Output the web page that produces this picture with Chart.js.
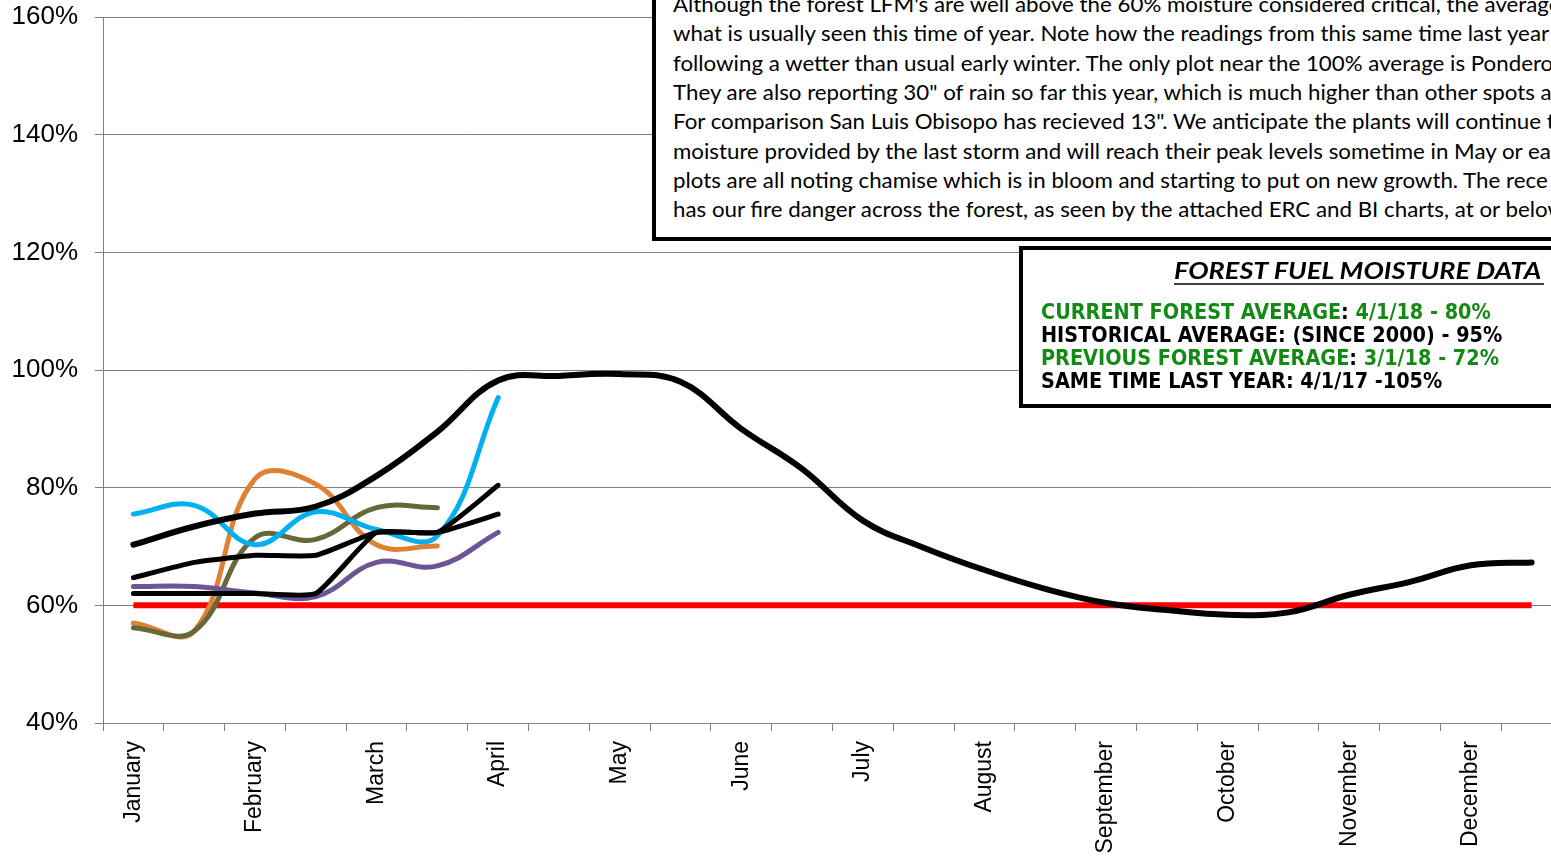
<!DOCTYPE html>
<html>
<head>
<meta charset="utf-8">
<script src="https://cdn.jsdelivr.net/npm/chart.js@4.4.1/dist/chart.umd.min.js"></script>
<style>
  html, body { margin: 0; padding: 0; background: #fff; overflow: hidden; width: 1551px; height: 859px; }
  #wrap { position: relative; width: 1551px; height: 859px; overflow: hidden; }
  #c { position: absolute; left: 0; top: 0; }
  #ov { position: absolute; left: 0; top: 0; }
</style>
</head>
<body>
<div id="wrap">
  <canvas id="c" width="1580" height="859"></canvas>
  <svg id="ov" width="1551" height="859" xmlns="http://www.w3.org/2000/svg"></svg>
</div>
<script>
// ---- data ----
const categories = ['January','','February','','March','','April','','May','','June','',
                    'July','','August','','September','','October','','November','','December',''];
const yTickValues = [40, 60, 80, 100, 120, 140, 160];
const historicalAvg = [70.3, 73.4, 75.6, 76.8, 82.0, 89.5, 98.2, 99.0, 99.3, 98.0, 90.0, 83.2,
                       74.4, 69.8, 66.0, 62.8, 60.4, 59.2, 58.4, 58.8, 61.8, 64.0, 66.8, 67.3];
const blackA = [64.7, 67.3, 68.5, 68.5, 72.4, 72.4, 75.5];
const blackB = [62.0, 62.0, 62.0, 62.0, 72.4, 72.4, 80.4];
const purpleSeries = [63.2, 63.2, 62.1, 61.5, 67.3, 66.7, 72.4];
const cyanSeries = [75.5, 77.0, 70.3, 75.9, 72.9, 71.8, 95.3];
const oliveSeries = [56.2, 55.6, 71.5, 71.2, 76.6, 76.6];
const orangeSeries = [57.0, 55.6, 81.5, 80.6, 70.3, 70.1];
const criticalLine = [60,60,60,60,60,60,60,60,60,60,60,60,60,60,60,60,60,60,60,60,60,60,60,60];

const bodyLines = [
  "Although the forest LFM's are well above the 60% moisture considered critical, the average",
  "what is usually seen this time of year. Note how the readings from this same time last year",
  "following a wetter than usual early winter. The only plot near the 100% average is Pondero",
  "They are also reporting 30\" of rain so far this year, which is much higher than other spots a",
  "For comparison San Luis Obisopo has recieved 13\". We anticipate the plants will continue t",
  "moisture provided by the last storm and will reach their peak levels sometime in May or ea",
  "plots are all noting chamise which is in bloom and starting to put on new growth. The rece",
  "has our fire danger across the forest, as seen by the attached ERC and BI charts, at or below"
];
const boxTitle = "FOREST FUEL MOISTURE DATA";
const boxLines = [
  [["CURRENT FOREST AVERAGE", "g"], [":", "k"], [" 4/1/18 - 80%", "g"]],
  [["HISTORICAL AVERAGE: (SINCE 2000) - 95%", "k"]],
  [["PREVIOUS FOREST AVERAGE", "g"], [":", "k"], [" 3/1/18 - 72%", "g"]],
  [["SAME TIME LAST YEAR: 4/1/17 -105%", "k"]]
];

// ---- chart ----
const FONT = "'Liberation Sans', Arial, sans-serif";
const canvasW = 1580;
const plotRight = 1562;

const ds = (data, color, width, tension) => ({
  data, borderColor: color, borderWidth: width, tension,
  pointRadius: 0, fill: false, borderCapStyle: 'round', borderJoinStyle: 'round'
});

new Chart(document.getElementById('c'), {
  type: 'line',
  data: {
    labels: categories,
    datasets: [
      ds(historicalAvg, '#000000', 6, 0.4),
      ds(blackB, '#000000', 5, 0.15),
      ds(blackA, '#000000', 5, 0.15),
      ds(purpleSeries, '#6B5596', 5, 0.4),
      ds(cyanSeries, '#00B0F0', 5, 0.4),
      ds(oliveSeries, '#67673A', 5, 0.4),
      ds(orangeSeries, '#DF8133', 5, 0.4),
      Object.assign(ds(criticalLine, '#FF0000', 6, 0), { borderCapStyle: 'butt' })
    ]
  },
  options: {
    responsive: false,
    animation: false,
    devicePixelRatio: 1,
    layout: { padding: { top: 17, right: canvasW - plotRight, left: 0, bottom: 0 } },
    plugins: { legend: { display: false }, tooltip: { enabled: false } },
    scales: {
      y: {
        min: 40, max: 160,
        afterBuildTicks: (s) => { s.ticks = yTickValues.map(v => ({ value: v })); },
        afterFit: (s) => { s.width = 103; s.paddingTop = 0; s.paddingBottom = 0; },
        ticks: { callback: (v) => v + '%', color: '#000', font: { family: FONT, size: 26 }, padding: 17 },
        grid: { color: '#808080', lineWidth: 1, tickLength: 8, drawTicks: true },
        border: { color: '#808080', width: 1 }
      },
      x: {
        offset: true,
        afterFit: (s) => { s.height = 859 - 723; s.paddingLeft = 0; s.paddingRight = 0; },
        ticks: { autoSkip: false, maxRotation: 90, minRotation: 90, color: '#000',
                 font: { family: FONT, size: 23 }, padding: 10 },
        grid: { offset: true, drawOnChartArea: false, drawTicks: true, tickLength: 8, color: '#808080', lineWidth: 1 },
        border: { color: '#808080', width: 1 }
      }
    }
  }
});

// ---- overlay text boxes ----
const NS = 'http://www.w3.org/2000/svg';
const svg = document.getElementById('ov');
const mc = document.createElement('canvas').getContext('2d');
function el(name, attrs, parent) {
  const e = document.createElementNS(NS, name);
  for (const k in attrs) e.setAttribute(k, attrs[k]);
  (parent || svg).appendChild(e);
  return e;
}
function measure(text, font) { mc.font = font; return mc.measureText(text).width; }

// body text box
el('rect', { x: 654, y: -30, width: 1100, height: 269, fill: '#fff', stroke: '#000', 'stroke-width': 4 });
const bodyFam = "Lato, 'Open Sans', sans-serif";
const bodySize = 21;
const bodySx = 872 / measure("following a wetter than usual early winter. The only plot near the 100% average is Ponder", bodySize + "px " + bodyFam);
bodyLines.forEach((t, i) => {
  const y = 12 + i * 29.3;
  const tx = el('text', { x: 0, y: 0, transform: `translate(673,${y}) scale(${bodySx},1)`,
    'font-family': bodyFam, 'font-size': bodySize, fill: '#000' });
  tx.textContent = t;
});

// legend box
el('rect', { x: 1021, y: 248, width: 700, height: 158, fill: '#fff', stroke: '#000', 'stroke-width': 4 });
const titleFont = "italic bold 23px Lato, 'Open Sans', sans-serif";
const titleSx = 369 / measure(boxTitle, titleFont);
const tt = el('text', { x: 0, y: 0, transform: `translate(1174,279) scale(${titleSx},1)`,
  'font-family': "Lato, 'Open Sans', sans-serif", 'font-size': 23, 'font-weight': 'bold', 'font-style': 'italic', fill: '#000' });
tt.textContent = boxTitle;
el('line', { x1: 1174, y1: 284, x2: 1544, y2: 284, stroke: '#000', 'stroke-width': 1.6 });

const lgFam = "'DejaVu Sans Condensed', 'DejaVu Sans', sans-serif";
const lgSize = 22;
const lgSx = 450 / measure("CURRENT FOREST AVERAGE: 4/1/18 - 80%", "bold " + lgSize + "px " + lgFam);
const GREEN = '#138A13';
boxLines.forEach((parts, i) => {
  const y = 319 + i * 23;
  const tx = el('text', { x: 0, y: 0, transform: `translate(1041,${y}) scale(${lgSx},1)`,
    'font-family': lgFam, 'font-size': lgSize, 'font-weight': 'bold' });
  parts.forEach(([s, c]) => {
    const sp = el('tspan', { fill: c === 'g' ? GREEN : '#000' }, tx);
    sp.textContent = s;
  });
});
</script>
</body>
</html>
